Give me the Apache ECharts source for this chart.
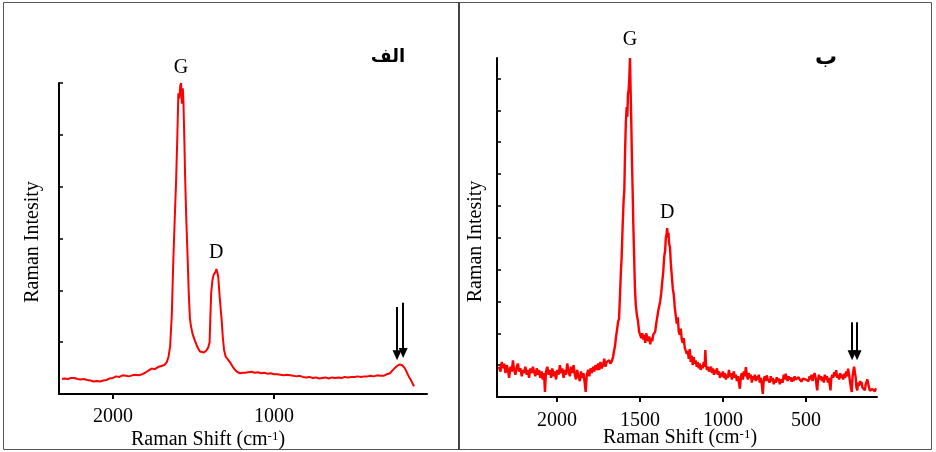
<!DOCTYPE html>
<html>
<head>
<meta charset="utf-8">
<script src="https://cdn.jsdelivr.net/npm/echarts@6/dist/echarts.min.js"></script>
<style>
  html, body { margin: 0; padding: 0; background: #fff; }
  #chart { width: 936px; height: 452px; }
</style>
</head>
<body>
<div id="chart"></div>
<script>
// spectrum (الف), intensity in arbitrary units
const leftShift = [2316, 2300, 2280, 2260, 2240, 2220, 2200, 2180, 2160, 2140, 2120, 2100, 2080, 2060, 2040, 2020,
  2000, 1980, 1960, 1940, 1920, 1900, 1880, 1860, 1840, 1820, 1800, 1780, 1760, 1740, 1720, 1700, 1680, 1665,
  1655, 1645, 1635, 1625, 1615, 1608, 1600, 1594, 1588, 1582, 1577, 1572, 1566, 1562, 1556, 1552, 1545, 1536,
  1530, 1522, 1515, 1505, 1490, 1475, 1460, 1449, 1435, 1420, 1408, 1400, 1395, 1390, 1382, 1375, 1368, 1362,
  1358, 1352, 1346, 1338, 1330, 1325, 1318, 1310, 1300, 1290, 1280, 1270, 1255, 1240, 1225, 1210, 1195, 1180,
  1160, 1140, 1120, 1100, 1080, 1060, 1040, 1020, 1000, 980, 960, 940, 920, 900, 880, 860, 840, 820, 800, 780,
  760, 740, 720, 700, 680, 660, 640, 620, 600, 580, 560, 540, 520, 500, 480, 460, 440, 420, 400, 380, 360, 340,
  320, 300, 290, 280, 270, 260, 250, 240, 230, 222, 214, 206, 197, 188, 180, 170, 160, 150, 145, 138, 130];
const leftIntensity = [0.29, 0.30, 0.29, 0.31, 0.31, 0.29, 0.28, 0.29, 0.27, 0.26, 0.24, 0.25, 0.24, 0.26, 0.27, 0.30,
  0.31, 0.34, 0.33, 0.36, 0.35, 0.34, 0.36, 0.37, 0.36, 0.38, 0.41, 0.45, 0.49, 0.48, 0.52, 0.54, 0.56, 0.62,
  0.72, 0.92, 1.5, 2.6, 3.5, 4.1, 5.0, 5.8, 5.7, 5.95, 6.0, 5.6, 5.9, 5.6, 4.8, 4.2, 3.4, 2.6,
  2.0, 1.45, 1.3, 1.15, 1.02, 0.9, 0.82, 0.79, 0.8, 0.84, 0.9, 1.0, 1.5, 1.95, 2.2, 2.3, 2.28, 2.36,
  2.41, 2.35, 2.26, 1.9, 1.6, 1.43, 1.1, 0.85, 0.72, 0.68, 0.64, 0.60, 0.52, 0.46, 0.42, 0.40, 0.41, 0.41,
  0.42, 0.43, 0.41, 0.42, 0.40, 0.41, 0.39, 0.40, 0.38, 0.38, 0.37, 0.36, 0.37, 0.36, 0.35, 0.34, 0.35, 0.33, 0.32, 0.33,
  0.31, 0.32, 0.30, 0.31, 0.32, 0.30, 0.32, 0.31, 0.32, 0.31, 0.33, 0.32, 0.33, 0.33, 0.34, 0.33, 0.34, 0.34, 0.35, 0.34, 0.36, 0.35,
  0.35, 0.38, 0.37, 0.40, 0.43, 0.47, 0.50, 0.53, 0.56, 0.57, 0.55, 0.56, 0.54, 0.50, 0.45, 0.38, 0.32, 0.27, 0.24, 0.19, 0.15];

// spectrum (ب) - noisy right panel
const rightShift = [2350, 2340, 2332, 2325, 2318, 2310, 2302, 2295, 2288, 2280, 2272, 2265, 2258, 2250, 2242, 2235,
  2228, 2220, 2212, 2205, 2198, 2190, 2182, 2175, 2168, 2160, 2152, 2145, 2138, 2130, 2122, 2115, 2108, 2100,
  2092, 2085, 2078, 2072, 2066, 2058, 2050, 2042, 2035, 2028, 2020, 2012, 2005, 1998, 1990, 1982, 1975, 1968,
  1960, 1952, 1945, 1938, 1930, 1922, 1915, 1908, 1900, 1892, 1885, 1878, 1870, 1862, 1855, 1848, 1840, 1833,
  1827, 1820, 1812, 1805, 1798, 1790, 1782, 1775, 1768, 1760, 1752, 1745, 1738, 1730, 1722, 1715, 1708, 1700,
  1692, 1685, 1678, 1670, 1662, 1656, 1650, 1644, 1638, 1632, 1626, 1620, 1615, 1610, 1604, 1598, 1594, 1590,
  1585, 1580, 1576, 1572, 1568, 1564, 1560, 1556, 1552, 1548, 1544, 1540, 1535, 1530, 1525, 1518, 1512, 1505,
  1498, 1492, 1486, 1480, 1474, 1468, 1462, 1456, 1450, 1444, 1438, 1432, 1426, 1420, 1414, 1408, 1402, 1396,
  1390, 1384, 1378, 1372, 1366, 1360, 1354, 1348, 1344, 1340, 1336, 1332, 1328, 1324, 1319, 1314, 1308, 1302,
  1296, 1290, 1284, 1278, 1272, 1266, 1260, 1254, 1248, 1242, 1236, 1230, 1224, 1218, 1212, 1206, 1200, 1194,
  1188, 1182, 1176, 1170, 1164, 1158, 1152, 1146, 1140, 1134, 1128, 1122, 1116, 1110, 1106, 1102, 1096, 1090,
  1084, 1078, 1072, 1066, 1060, 1054, 1048, 1042, 1036, 1030, 1024, 1018, 1012, 1006, 1000, 994, 988, 982,
  976, 970, 964, 958, 952, 946, 940, 934, 928, 922, 916, 910, 904, 898, 892, 886, 880, 874, 868, 862, 856, 850,
  844, 838, 832, 826, 820, 814, 808, 802, 796, 790, 784, 778, 772, 766, 760, 754, 748, 742, 736, 730, 724, 718,
  712, 706, 700, 694, 688, 682, 676, 670, 664, 658, 652, 646, 640, 634, 628, 622, 616, 610, 604, 598, 592, 586,
  580, 574, 568, 562, 556, 550, 544, 538, 532, 526, 520, 514, 508, 502, 496, 490, 484, 478, 472, 466, 460, 454,
  448, 444, 440, 436, 432, 428, 422, 416, 410, 404, 398, 392, 386, 380, 374, 368, 362, 356, 352, 348, 342, 336,
  330, 324, 318, 312, 306, 300, 294, 288, 282, 276, 270, 264, 258, 252, 246, 240, 234, 228, 224, 220, 215, 210,
  205, 200, 196, 191, 186, 180, 174, 170, 165, 160, 155, 150, 145, 140, 135, 130, 125, 120, 115, 110, 105, 100,
  95, 90, 85, 80, 75];
const rightIntensity = [0.95, 0.80, 1.10, 0.90, 1.05, 0.75, 1.00, 0.85, 0.60, 0.95, 0.80, 1.15, 0.85, 0.70, 0.95, 1.05,
  0.80, 0.90, 0.65, 0.85, 0.75, 0.95, 0.70, 0.85, 0.60, 0.90, 0.75, 0.95, 0.80, 0.65, 0.90, 0.70, 0.85, 0.60,
  0.80, 0.55, 0.75, 0.16, 0.80, 0.95, 0.70, 0.85, 0.60, 0.90, 0.65, 0.80, 0.55, 0.85, 0.70, 1.00, 0.75, 0.90,
  0.60, 0.85, 0.70, 1.05, 0.80, 0.65, 0.95, 0.75, 1.00, 0.70, 0.55, 0.85, 0.65, 0.50, 0.80, 0.60, 0.75, 0.45,
  0.16, 0.70, 0.85, 0.65, 0.90, 0.75, 0.95, 0.80, 1.00, 0.85, 1.05, 0.85, 1.10, 0.90, 1.00, 1.20, 0.95, 1.10,
  1.05, 1.15, 1.05, 1.12, 1.25, 1.45, 1.60, 1.90, 2.10, 2.35, 2.45, 3.20, 3.90, 4.40, 5.40, 6.20, 6.50, 7.60,
  8.60, 9.10, 8.80, 9.50, 9.64, 10.00, 10.64, 9.60, 8.60, 7.40, 6.50, 5.45, 4.40, 3.40, 2.90, 2.55, 2.40, 2.05,
  2.10, 1.85, 2.00, 1.80, 1.95, 1.70, 2.00, 1.85, 1.75, 1.90, 1.65, 1.85, 1.75, 1.95, 2.00, 2.05, 2.30, 2.50,
  2.70, 2.75, 3.00, 3.25, 3.60, 3.90, 4.40, 4.60, 5.00, 5.10, 5.30, 5.00, 5.15, 4.80, 4.70, 4.20, 3.80, 3.40,
  3.20, 2.80, 2.55, 2.30, 2.50, 2.05, 1.95, 2.15, 1.80, 1.70, 1.85, 1.55, 1.60, 1.35, 1.45, 1.20, 1.50, 1.10,
  1.30, 1.00, 1.25, 1.05, 1.15, 0.95, 1.10, 0.90, 1.05, 0.85, 1.00, 0.90, 1.10, 0.95, 1.47, 1.00, 0.85, 0.95,
  0.80, 0.84, 0.95, 0.75, 0.90, 0.70, 0.85, 0.75, 0.90, 0.70, 0.80, 0.60, 0.75, 0.65, 0.80, 0.60, 0.75, 0.55,
  0.70, 0.60, 0.85, 0.65, 0.75, 0.55, 0.70, 0.80, 0.60, 0.70, 0.50, 0.65, 0.45, 0.26, 0.65, 0.75, 0.55, 0.80, 0.65, 0.94, 0.70, 0.55,
  0.75, 0.60, 0.70, 0.45, 0.65, 0.55, 0.70, 0.50, 0.65, 0.55, 0.70, 0.45, 0.60, 0.40, 0.10, 0.55, 0.65, 0.50, 0.68, 0.55, 0.60, 0.45,
  0.65, 0.50, 0.60, 0.40, 0.55, 0.45, 0.62, 0.50, 0.58, 0.40, 0.55, 0.60, 0.45, 0.70, 0.55, 0.73, 0.60, 0.50, 0.65, 0.55, 0.62, 0.48,
  0.60, 0.50, 0.65, 0.55, 0.58, 0.50, 0.62, 0.55, 0.60, 0.48, 0.58, 0.52, 0.62, 0.55, 0.55, 0.60, 0.50, 0.65, 0.55, 0.70, 0.50, 0.65,
  0.75, 0.79, 0.55, 0.35, 0.21, 0.50, 0.70, 0.55, 0.65, 0.50, 0.63, 0.45, 0.70, 0.55, 0.65, 0.45, 0.60, 0.35, 0.21, 0.55, 0.70, 0.60,
  0.78, 0.65, 0.84, 0.60, 0.70, 0.55, 0.75, 0.60, 0.70, 0.55, 0.73, 0.60, 0.80, 0.65, 0.89, 0.70, 0.45, 0.25, 0.16, 0.60, 0.80, 0.95,
  1.00, 0.60, 0.30, 0.21, 0.45, 0.35, 0.50, 0.40, 0.47, 0.30, 0.25, 0.35, 0.21, 0.40, 0.45, 0.55, 0.50, 0.30, 0.20, 0.25, 0.16, 0.25,
  0.20, 0.30, 0.18, 0.25, 0.26];

// tick marks / labels on the shift axes
const leftShiftTicks = [1000, 2000];
const rightShiftTicks = [500, 1000, 1500, 2000];
const rightIntensityTicks = [0, 1, 2, 3, 4, 5, 6, 7, 8, 9, 10];

// peak labels [shift, intensity] and the double arrows [x, yTop, yBottom]
const leftPeaks = [{ name: 'G', coord: [1577, 6.0], dist: 5 }, { name: 'D', coord: [1358, 2.41], dist: 6 }];
const rightPeaks = [{ name: 'G', coord: [1560, 10.64], dist: 8 }, { name: 'D', coord: [1336, 5.3], dist: 5 }];
const leftArrows = [[236, 1.68, 0.75], [198, 1.76, 0.79]];
const rightArrows = [[222, 2.35, 1.31], [192, 2.35, 1.31]];

const serif = '"Liberation Serif", "Times New Roman", serif';
const zip = (xs, ys) => xs.map((x, i) => [x, ys[i]]);

function shiftAxis(gridIndex, min, max, ticks, labelMargin, nameGap, namePad) {
    return {
        type: 'value', gridIndex: gridIndex, inverse: true, min: min, max: max,
        name: 'Raman Shift (cm{sup|-1})', nameLocation: 'middle', nameGap: nameGap, nameMoveOverlap: false,
        nameTextStyle: {
            fontFamily: serif, fontSize: 20, color: '#000', padding: [0, namePad, 0, 0],
            rich: { sup: { fontFamily: serif, fontSize: 13, color: '#000', verticalAlign: 'top' } }
        },
        axisLine: { show: true, lineStyle: { color: '#000', width: 2 } },
        axisTick: { show: true, length: 5, lineStyle: { color: '#000', width: 2 }, customValues: ticks },
        axisLabel: { fontFamily: serif, fontSize: 20, color: '#000', margin: labelMargin,
            customValues: ticks, formatter: v => String(v) },
        splitLine: { show: false }
    };
}

function intensityAxis(gridIndex, max, padRight, nameGap, ticks) {
    let tick = { show: true, inside: true, length: 4, lineStyle: { color: '#000', width: 1.5 } };
    if (ticks) tick.customValues = ticks;
    return {
        type: 'value', gridIndex: gridIndex, min: 0, max: max, interval: 1,
        name: 'Raman Intesity', nameLocation: 'middle', nameGap: nameGap, nameMoveOverlap: false,
        nameTextStyle: { fontFamily: serif, fontSize: 20, color: '#000', padding: [0, padRight, 0, 0] },
        axisLine: { show: true, lineStyle: { color: '#000', width: 2 } },
        axisTick: tick,
        axisLabel: { show: false },
        splitLine: { show: false }
    };
}

function peakMarks(peaks) {
    return {
        symbol: 'circle', symbolSize: 0, silent: true,
        data: peaks.map(p => ({
            coord: p.coord, value: p.name,
            label: { show: true, position: 'top', distance: p.dist, formatter: p.name,
                fontFamily: serif, fontSize: 20, color: '#000' }
        }))
    };
}

function arrowMarks(arrows) {
    return {
        silent: true, symbol: ['none', 'triangle'], symbolSize: [9, 10], symbolRotate: 180,
        label: { show: false },
        lineStyle: { color: '#000', width: 2, type: 'solid' },
        data: arrows.map(a => [{ coord: [a[0], a[1]] }, { coord: [a[0], a[2]] }])
    };
}

const chart = echarts.init(document.getElementById('chart'));
chart.setOption({
    animation: false,
    backgroundColor: '#fff',
    grid: [
        { left: 59, top: 83, width: 368, height: 311, outerBoundsMode: 'none' },
        { left: 497, top: 58, width: 380, height: 339, outerBoundsMode: 'none' }
    ],
    xAxis: [
        shiftAxis(0, 50, 2335, leftShiftTicks, 13, 36, 70),
        shiftAxis(1, 72, 2361, rightShiftTicks, 14, 31, 14)
    ],
    yAxis: [
        intensityAxis(0, 6, 7, 16),
        intensityAxis(1, 10.64, 28, 11, rightIntensityTicks)
    ],
    series: [
        {
            type: 'line', xAxisIndex: 0, yAxisIndex: 0, showSymbol: false,
            lineStyle: { color: '#ff0000', width: 2 },
            data: zip(leftShift, leftIntensity),
            markPoint: peakMarks(leftPeaks),
            markLine: arrowMarks(leftArrows)
        },
        {
            type: 'line', xAxisIndex: 1, yAxisIndex: 1, showSymbol: false,
            lineStyle: { color: '#ff0000', width: 2.4 },
            data: zip(rightShift, rightIntensity),
            markPoint: peakMarks(rightPeaks),
            markLine: arrowMarks(rightArrows)
        }
    ],
    graphic: [
        { type: 'rect', silent: true, shape: { x: 3.5, y: 2.5, width: 928, height: 447 },
          style: { fill: 'none', stroke: '#555', lineWidth: 1 } },
        { type: 'line', silent: true, shape: { x1: 459, y1: 2, x2: 459, y2: 450 },
          style: { stroke: '#444', lineWidth: 2 } },
        { type: 'text', silent: true, x: 388, y: 57,
          style: { text: 'الف', font: 'bold 18px "DejaVu Sans"', fill: '#000', align: 'center', verticalAlign: 'middle' } },
        { type: 'text', silent: true, x: 826, y: 58,
          style: { text: 'ب', font: 'bold 22px "DejaVu Sans"', fill: '#000', align: 'center', verticalAlign: 'middle' } }
    ]
});
</script>
</body>
</html>
